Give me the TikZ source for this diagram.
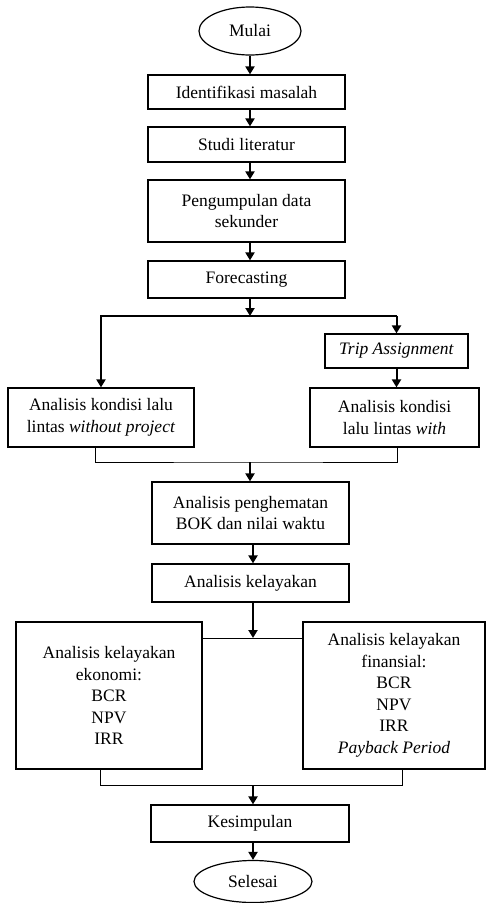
\documentclass[tikz,border=0pt]{standalone}
\usepackage{fontspec}
\setmainfont{Liberation Serif}
\usetikzlibrary{arrows.meta,calc,shapes.geometric}
\tikzset{
  box/.style={draw, line width=1.2pt, align=center, inner sep=0pt, font=\fontsize{17.5}{21.5}\selectfont},
  term/.style={draw, ellipse, line width=1.2pt, inner sep=0pt, font=\fontsize{17.5}{21.5}\selectfont},
  flow/.style={line width=2pt, -{Triangle[length=8pt,width=9pt]}},
  flowline/.style={line width=2pt},
  thinline/.style={line width=0.8pt}
}
\begin{document}
\begin{tikzpicture}[x=1pt,y=-1pt]
\useasboundingbox (0,0) rectangle (486,903);
\node[term, minimum width=102pt, minimum height=48pt] (mulai) at (250,31) {Mulai};
\node[box, minimum width=197pt, minimum height=34pt] (ident) at (246.5,92) {Identifikasi masalah};
\node[box, minimum width=197pt, minimum height=35pt] (studi) at (246.5,144.5) {Studi literatur};
\node[box, minimum width=197pt, minimum height=62pt] (kumpul) at (246.5,211) {Pengumpulan data\\sekunder};
\node[box, minimum width=197pt, minimum height=37pt] (fore) at (246.5,279.5) {Forecasting};
\node[box, minimum width=143pt, minimum height=34pt] (trip) at (396.5,351) {\textit{Trip Assignment}};
\node[box, minimum width=186pt, minimum height=59pt] (without) at (101,417.5) {Analisis kondisi lalu\\lintas \textit{without project}};
\node[box, minimum width=169pt, minimum height=59pt] (with) at (394.5,417.5) {Analisis kondisi\\lalu lintas \textit{with}};
\node[box, minimum width=197pt, minimum height=62pt] (hemat) at (250.5,513) {Analisis penghematan\\BOK dan nilai waktu};
\node[box, minimum width=197pt, minimum height=38pt] (layak) at (250.5,583) {Analisis kelayakan};
\node[box, minimum width=186pt, minimum height=147pt] (eko) at (109,695.5) {Analisis kelayakan\\ekonomi:\\BCR\\NPV\\IRR};
\node[box, minimum width=182pt, minimum height=147pt] (fin) at (394,695.5) {Analisis kelayakan\\finansial:\\BCR\\NPV\\IRR\\\textit{Payback Period}};
\node[box, minimum width=198pt, minimum height=37pt] (kesim) at (250,823.5) {Kesimpulan};
\node[term, minimum width=118pt, minimum height=42pt] (selesai) at (253,881.5) {Selesai};

\coordinate (j1) at (250,316);
\coordinate (j2) at (250,462);
\coordinate (j3) at (253,638);
\coordinate (j4) at (253,785);

\draw[flow] (mulai.south) -- (mulai.south |- ident.north);
\draw[flow] (ident.south -| mulai) -- (mulai |- studi.north);
\draw[flow] (studi.south -| mulai) -- (mulai |- kumpul.north);
\draw[flow] (kumpul.south -| mulai) -- (mulai |- fore.north);
\draw[flow] (fore.south -| j1) -- (j1);
\draw[flowline] ([xshift=-1pt]j1 -| without.north) -- (j1 -| trip.north);
\draw[flow] (j1 -| without.north) -- (without.north);
\draw[flow] (j1 -| trip.north) -- (trip.north);
\draw[flow] (trip.south) -- (trip.south |- with.north);
\draw[thinline] ([xshift=-6pt]without.south) |- (j2) -| ([xshift=2.5pt]with.south);
\draw[flow] (j2) -- (j2 |- hemat.north);
\draw[flow] (hemat.south -| j3) -- (j3 |- layak.north);
\draw[flow] (layak.south -| j3) -- (j3);
\draw[thinline] (eko.east |- j3) -- (fin.west |- j3);
\draw[thinline] ([xshift=-9pt]eko.south) |- (j4) -| ([xshift=8pt]fin.south);
\draw[flow] (j4) -- (j4 |- kesim.north);
\draw[flow] (kesim.south -| j4) -- (selesai.north);
\end{tikzpicture}
\end{document}
